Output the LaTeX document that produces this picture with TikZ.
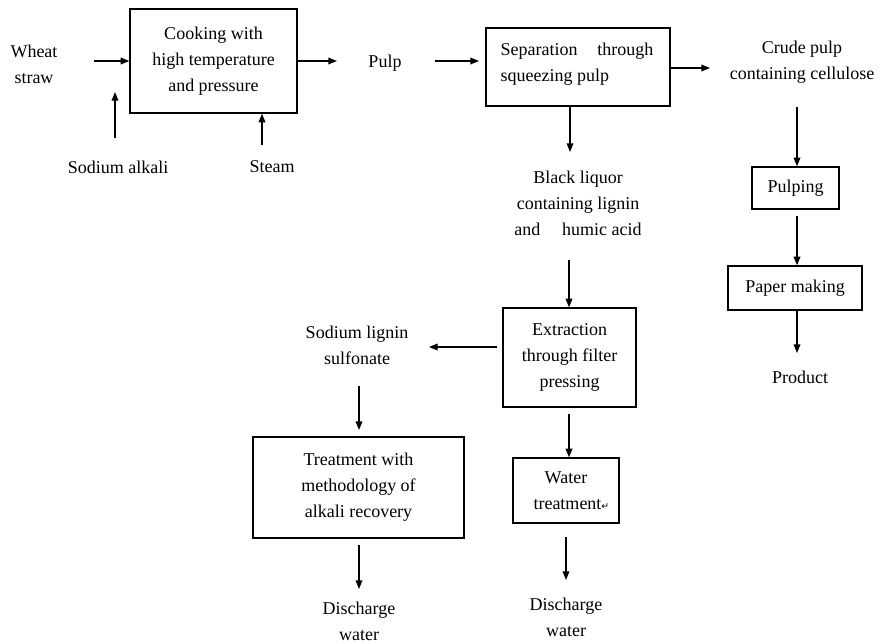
\documentclass[tikz,border=0pt]{standalone}
\usepackage{fontspec}
\setmainfont{Liberation Serif}
\newfontfamily\symfont{DejaVu Sans}
\usetikzlibrary{arrows.meta}
\begin{document}
\begin{tikzpicture}[x=0.75pt,y=-0.75pt,
  every node/.style={font=\fontsize{13.5}{19.5}\selectfont, inner sep=0pt, align=center},
  box/.style={draw, line width=1pt},
  arr/.style={line width=1pt, -{Triangle[length=6.5pt,width=5pt]}}]
\useasboundingbox (0,0) rectangle (882,643);
% boxes
\node[box, minimum width=125.25pt, minimum height=78pt] (cook) at (213.5,61) {Cooking with\\high temperature\\and pressure};
\node[box, minimum width=138pt, minimum height=58.5pt] (sep) at (578,67) {};
\node[align=left] (septxt) at (577,64) {Separation\hspace{1.1em}through\\squeezing pulp};
\node[box, minimum width=65.25pt, minimum height=31.5pt] (pulping) at (795.5,188) {Pulping};
\node[box, minimum width=100.5pt, minimum height=33pt] (paper) at (795,288) {Paper making};
\node[box, minimum width=99.75pt, minimum height=74.25pt] (extr) at (569.5,357.5) {Extraction\\through filter\\pressing};
\node[box, minimum width=158.25pt, minimum height=75.75pt] (treat) at (358.5,487.5) {Treatment with\\methodology of\\alkali recovery};
\node[box, minimum width=79.5pt, minimum height=48.75pt] (water) at (566,490.5) {Water\\\hspace{0.6em}treatment{\symfont\fontsize{7}{8}\selectfont↵}};
% text nodes
\node (wheat) at (34,64) {Wheat\\straw};
\node (soda) at (118,167) {Sodium alkali};
\node (steam) at (272,167) {Steam};
\node (pulp) at (385,63) {Pulp};
\node (crude) at (802,62) {Crude pulp\\containing cellulose};
\node (product) at (800,377) {Product};
\node (black) at (578,203) {Black liquor\\containing lignin\\and\hspace{1.2em}humic acid};
\node (slig) at (357,345) {Sodium lignin\\sulfonate};
\node (dis1) at (359,621) {Discharge\\water};
\node (dis2) at (566,617) {Discharge\\water};
% free ends
\coordinate (wIn) at (94,61);
\coordinate (sIn) at (115,138);
\coordinate (sOut) at (115,92);
\coordinate (stIn) at (262,145);
\coordinate (cOut) at (337,61);
\coordinate (pIn) at (435,61);
\coordinate (pOut) at (479,61);
\coordinate (spOut) at (710,68);
\coordinate (crIn) at (797,107);
\coordinate (prOut) at (797,353);
\coordinate (blOut) at (570,152);
\coordinate (blIn) at (569,260);
\coordinate (exOut) at (429,347);
\coordinate (slIn) at (359,386);
\coordinate (slOut) at (359,430);
\coordinate (trOut) at (359,589);
\coordinate (waOut) at (566,580);
% connectors
\draw[arr] (wIn) -- (wIn -| cook.west);
\draw[arr] (sIn) -- (sOut);
\draw[arr] (stIn) -- (stIn |- cook.south);
\draw[arr] (cook.east |- cOut) -- (cOut);
\draw[arr] (pIn) -- (pOut);
\draw[arr] (sep.east |- spOut) -- (spOut);
\draw[arr] (crIn) -- (crIn |- pulping.north);
\draw[arr] ([yshift=-5pt]pulping.south -| crIn) -- (paper.north -| crIn);
\draw[arr] (paper.south -| prOut) -- (prOut);
\draw[arr] (sep.south -| blOut) -- (blOut);
\draw[arr] (blIn) -- (blIn |- extr.north);
\draw[arr] ([xshift=-3.75pt]extr.west |- exOut) -- (exOut);
\draw[arr] (slIn) -- (slOut);
\draw[arr] ([yshift=-5pt]treat.south -| trOut) -- (trOut);
\draw[arr] ([yshift=-5pt]extr.south -| blIn) -- (water.north -| blIn);
\draw[arr] ([yshift=-10pt]water.south) -- (waOut);
\end{tikzpicture}
\end{document}
